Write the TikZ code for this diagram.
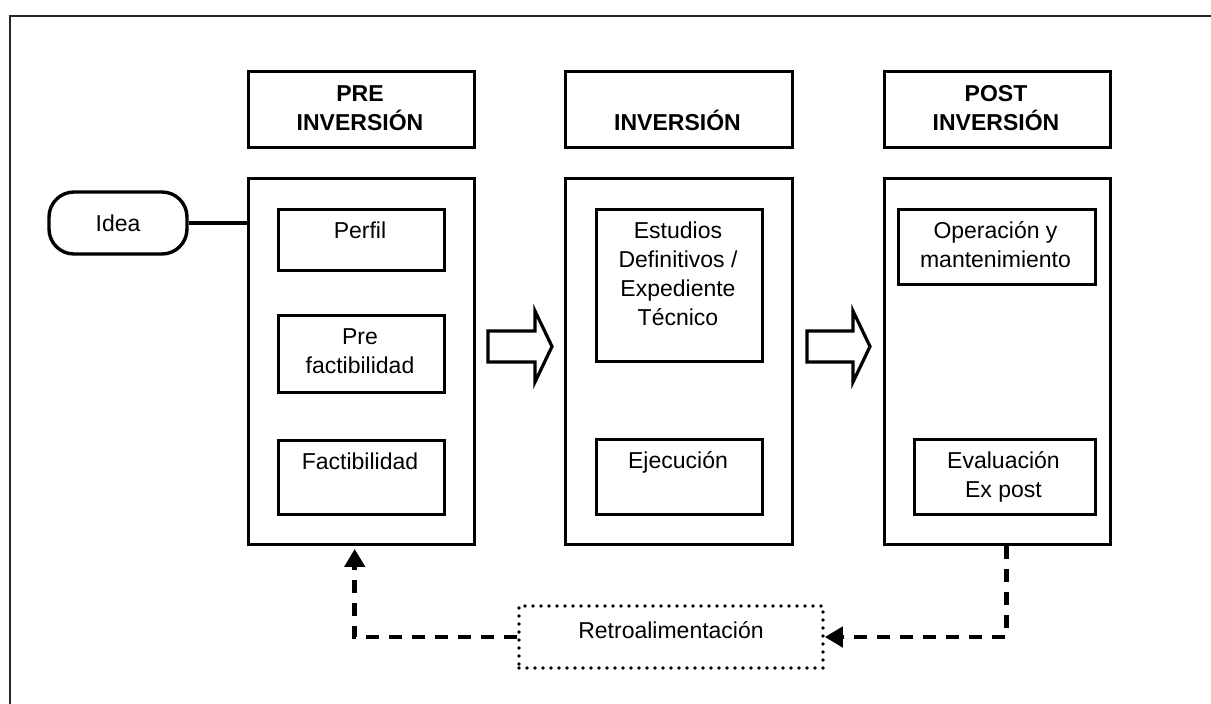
\documentclass[tikz,border=0pt]{standalone}
\usepackage{fontspec}
\setmainfont{Liberation Sans}
\usetikzlibrary{arrows.meta}

% strut that fixes the height of the first text line in a box
\newcommand\firstline{\rule{0pt}{22pt}}
% rectangle node given by its top-left and bottom-right corners
\newcommand\boxnode[5]{%
  \node[stagebox, minimum width=#4pt-#2pt, minimum height=#5pt-#3pt] (#1) at (#2,#3) {};}

\begin{document}
\begin{tikzpicture}[x=1pt, y=-1pt,
  framerule/.style={line width=2pt, black!85},
  stagebox/.style={draw, line width=3.4pt, inner sep=0pt, anchor=north west},
  txt/.style={font=\fontsize{23}{29}\selectfont, align=center, inner sep=0pt},
  hdr/.style={txt, font=\fontsize{23}{29}\selectfont\bfseries},
  blockarrow/.style={draw, line width=3.2pt, line join=miter, fill=white},
  fb/.style={line width=4.5pt, dash pattern=on 13pt off 10pt,
             -{Triangle[length=18pt,width=20pt]}},
]
\useasboundingbox (0,0) rectangle (1211,704);

% outer frame (top and left edges)
\draw[framerule] (1215,15.5) -- (9.5,15.5) -- (9.5,710);

% stage headers
\boxnode{h1}{247}{70}{473}{146}
\boxnode{h2}{564}{70}{791}{146}
\boxnode{h3}{883}{70}{1109}{146}
\node[hdr, anchor=north] (h1-t) at (360,79) {\firstline PRE\\INVERSIÓN};
\node[hdr, anchor=base] (h2-t) at (677.5,130) {INVERSIÓN};
\node[hdr, anchor=north] (h3-t) at (996,79) {\firstline POST\\INVERSIÓN};

% stage panels
\boxnode{p1}{247}{177}{473}{543}
\boxnode{p2}{564}{177}{791}{543}
\boxnode{p3}{883}{177}{1109}{543}

% steps of each stage
\boxnode{perfil}{277}{208}{443}{269}
\boxnode{prefact}{277}{314}{443}{391}
\boxnode{fact}{277}{439}{443}{513}
\boxnode{estudios}{595}{208}{761}{360}
\boxnode{ejec}{595}{438}{761}{513}
\boxnode{oper}{897}{208}{1094}{283}
\boxnode{evalu}{913}{438}{1094}{513}

\node[txt, anchor=north] (perfil-t)   at (360,216)    {\firstline Perfil};
\node[txt, anchor=north] (prefact-t)  at (360,322)    {\firstline Pre\\factibilidad};
\node[txt, anchor=north] (fact-t)     at (360,447)    {\firstline Factibilidad};
\node[txt, anchor=north] (estudios-t) at (678,216)    {\firstline Estudios\\Definitivos /\\Expediente\\Técnico};
\node[txt, anchor=north] (ejec-t)     at (678,446)    {\firstline Ejecución};
\node[txt, anchor=north] (oper-t)     at (995.5,216)  {\firstline Operación y\\mantenimiento};
\node[txt, anchor=north] (evalu-t)    at (1003.5,446) {\firstline Evaluación\\Ex post};

% starting idea
\node[txt, draw, line width=3.4pt, rounded corners=25pt,
      minimum width=138pt, minimum height=62pt] (idea) at (118,223) {Idea};
\draw[line width=4pt] (idea.east) -- (idea.east -| p1.west);

% block arrows between stages
\draw[blockarrow] (488,331) -- (535,331) -- (535,311) -- (552,346.5)
  -- (535,382) -- (535,362) -- (488,362) -- cycle;
\draw[blockarrow] (807,331) -- (853,331) -- (853,311) -- (870,346.5)
  -- (853,382) -- (853,362) -- (807,362) -- cycle;

% feedback loop
\node[draw, line width=3.6pt, dash pattern=on 0pt off 8pt, line cap=round,
      inner sep=0pt, minimum width=304pt, minimum height=62pt] (retro) at (671,637) {};
\node[txt, anchor=base] (retro-t) at (671,638) {Retroalimentación};

\draw[fb, shorten >=2.5pt] (retro.west) -| ([xshift=-7pt]p1.south);
\draw[fb] ([xshift=9pt]p3.south) |- (retro.east);
\end{tikzpicture}
\end{document}
